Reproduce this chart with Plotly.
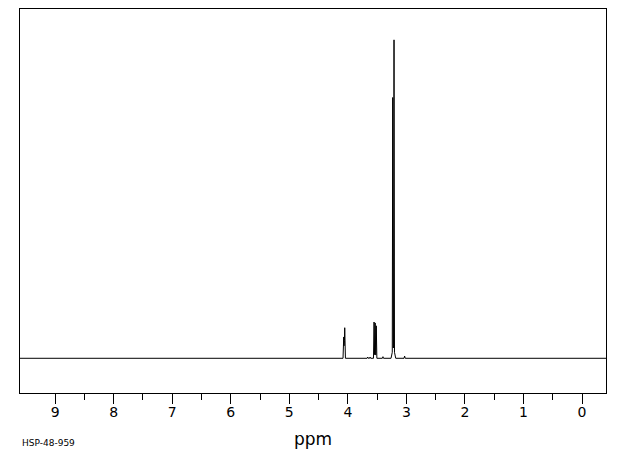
import numpy as np
import plotly.graph_objects as go

# Peak list (chemical shift in ppm, relative intensity, half-width in ppm)
peak_ppm = [4.070, 4.053, 3.552, 3.533, 3.514, 3.660, 3.620, 3.400, 3.233, 3.222, 3.211, 3.030]
peak_int = [6.7, 9.6, 11.4, 11.1, 10.2, 0.4, 0.4, 0.5, 79.3, 3.6, 97.4, 0.7]
peak_hw = [0.012, 0.012, 0.010, 0.010, 0.010, 0.010, 0.010, 0.010, 0.008, 0.040, 0.008, 0.010]

x_start, x_end = 9.6, -0.41
tick_vals = [9, 8, 7, 6, 5, 4, 3, 2, 1, 0]
tick_text = [str(v) for v in tick_vals]
minor_vals = [8.5, 7.5, 6.5, 5.5, 4.5, 3.5, 2.5, 1.5, 0.5]
code_label = "HSP-48-959"

# Build piecewise-linear spectrum (sum of triangular lines) from the peak list
pts = {x_start, x_end}
for p, w in zip(peak_ppm, peak_hw):
    pts.update([p - w, p, p + w])
xs = np.array(sorted(pts, reverse=True))
ys = np.zeros_like(xs)
for p, h, w in zip(peak_ppm, peak_int, peak_hw):
    ys += np.clip(h * (1 - np.abs(xs - p) / w), 0, None)

fig = go.Figure()
fig.add_trace(go.Scatter(x=xs, y=ys, mode="lines",
                         line=dict(color="black", width=1), hoverinfo="skip"))

fig.update_layout(
    width=620, height=455,
    margin=dict(l=12, r=22, t=1, b=70),
    paper_bgcolor="white", plot_bgcolor="white",
    showlegend=False,
    font=dict(family="DejaVu Sans", color="black"),
    xaxis=dict(
        range=[x_start, x_end],
        tickmode="array", tickvals=tick_vals, ticktext=tick_text,
        ticks="outside", ticklen=10, tickwidth=1, tickcolor="black",
        minor=dict(tickvals=minor_vals, ticks="outside", ticklen=6, tickwidth=1, tickcolor="black"),
        showline=True, linecolor="black", linewidth=1, mirror=True,
        showgrid=False, zeroline=False,
        tickfont=dict(size=14, color="black"),
        ticklabelstandoff=-4,
        title=dict(text="ppm", font=dict(size=17, color="black"), standoff=14),
    ),
    yaxis=dict(
        range=[-10.9, 109.7],
        showticklabels=False, ticks="",
        showline=True, linecolor="black", linewidth=1, mirror=True,
        showgrid=False, zeroline=False,
    ),
    annotations=[dict(text=code_label, xref="paper", yref="paper",
                      x=0, y=-0.13, xanchor="left", yanchor="middle",
                      showarrow=False, font=dict(size=9, color="black"))],
)

fig.write_html("out.html")
